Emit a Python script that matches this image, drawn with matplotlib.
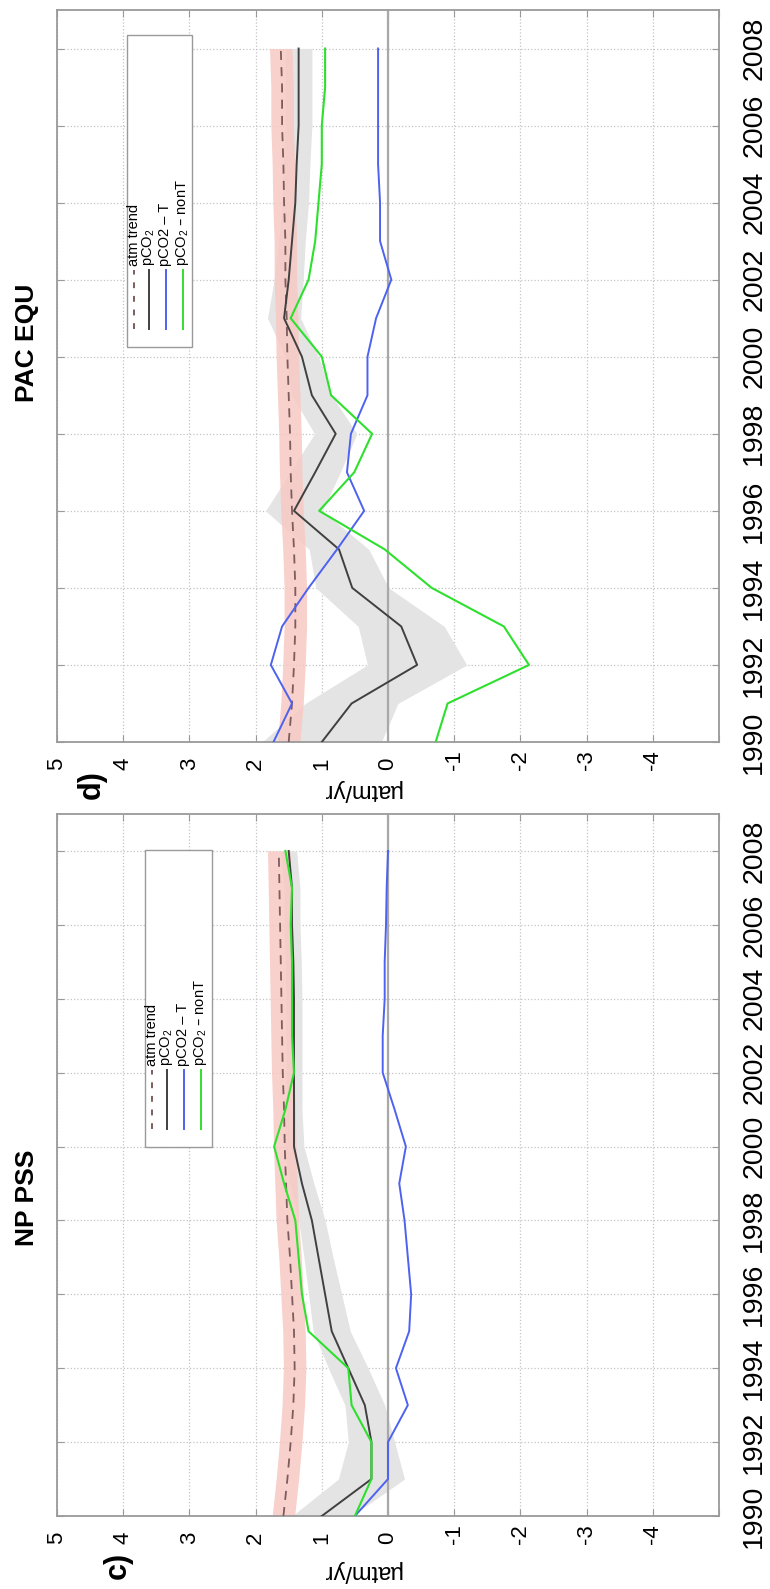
import matplotlib
matplotlib.use("Agg")
import matplotlib.pyplot as plt
from matplotlib.lines import Line2D
from matplotlib.patches import Rectangle
import numpy as np

plt.rcParams['font.family'] = ['Liberation Sans', 'DejaVu Sans']
plt.rcParams['mathtext.default'] = 'regular'

W_PX, H_PX = 770, 1589

years = np.arange(1990, 2009)
year_ticks = [1990, 1992, 1994, 1996, 1998, 2000, 2002, 2004, 2006, 2008]
value_ticks = [5, 4, 3, 2, 1, 0, -1, -2, -3, -4, -5]
value_labels = ['5', '4', '3', '2', '1', '0', '-1', '-2', '-3', '-4', '']

# NP PSS
npAtm = [1.58, 1.52, 1.47, 1.43, 1.41, 1.42, 1.45, 1.48, 1.52, 1.54,
         1.56, 1.57, 1.59, 1.60, 1.61, 1.62, 1.63, 1.64, 1.65]
npPco2 = [1.0, 0.25, 0.25, 0.35, 0.6, 0.85, 0.95, 1.05, 1.15, 1.3,
          1.42, 1.42, 1.42, 1.42, 1.42, 1.43, 1.45, 1.45, 1.5]
npErr = [0.45, 0.5, 0.35, 0.3, 0.3, 0.28, 0.25, 0.22, 0.2, 0.18,
         0.15, 0.12, 0.12, 0.12, 0.12, 0.12, 0.12, 0.12, 0.12]
npT = [0.5, 0.0, 0.0, -0.3, -0.12, -0.32, -0.35, -0.3, -0.25, -0.17,
       -0.27, -0.1, 0.08, 0.08, 0.05, 0.05, 0.03, 0.02, 0.0]
npNonT = [0.5, 0.25, 0.25, 0.55, 0.6, 1.2, 1.3, 1.35, 1.4, 1.57,
          1.72, 1.55, 1.42, 1.45, 1.45, 1.45, 1.47, 1.45, 1.55]

# PAC EQU
eqAtm = [1.5, 1.45, 1.42, 1.40, 1.40, 1.42, 1.45, 1.47, 1.48, 1.5,
         1.52, 1.53, 1.55, 1.55, 1.57, 1.58, 1.6, 1.6, 1.62]
eqPco2 = [1.0, 0.55, -0.44, -0.2, 0.54, 0.74, 1.42, 1.1, 0.79, 1.15,
          1.3, 1.57, 1.5, 1.45, 1.4, 1.38, 1.35, 1.35, 1.35]
eqErr = [0.9, 0.7, 0.75, 0.65, 0.55, 0.45, 0.43, 0.38, 0.32, 0.3,
         0.25, 0.25, 0.22, 0.2, 0.2, 0.2, 0.2, 0.2, 0.2]
eqT = [1.73, 1.45, 1.77, 1.6, 1.2, 0.77, 0.36, 0.62, 0.56, 0.31,
       0.31, 0.18, -0.05, 0.12, 0.12, 0.15, 0.15, 0.15, 0.15]
eqNonT = [-0.72, -0.9, -2.13, -1.75, -0.66, 0.05, 1.04, 0.51, 0.24, 0.86,
          1.0, 1.47, 1.2, 1.1, 1.05, 1.0, 1.0, 0.95, 0.95]

atmHalfWidth = 0.17

keyLabels = ['atm trend', 'pCO$_2$', 'pCO2 \u2013 T', 'pCO$_2$ \u2013 nonT']

cAtm = '#7d5c5c'
cBand = '#f7c9c3'
cErr = '#e4e4e4'
cPco2 = '#404040'
cT = '#4d62f0'
cNonT = '#2ee02e'
cFrame = '#9a9a9a'


def fig_xy(xp, yp):
    return xp / W_PX, 1 - yp / H_PX


def DrawKey(fig, left, top, right, bottom):
    x0, y0 = fig_xy(left, bottom)
    x1, y1 = fig_xy(right, top)
    fig.add_artist(Rectangle((x0, y0), x1 - x0, y1 - y0, transform=fig.transFigure,
                             facecolor='white', edgecolor=cFrame, lw=1.0, zorder=5))
    styles = [dict(color=cAtm, ls=(0, (3, 4))), dict(color=cPco2, ls='-'),
              dict(color=cT, ls='-'), dict(color=cNonT, ls='-')]
    offsets = [6.5, 21.5, 38.5, 55.5]
    for off, label, st in zip(offsets, keyLabels, styles):
        xa, ya = fig_xy(left + off, bottom - 18)
        xb, yb = fig_xy(left + off, bottom - 77)
        fig.add_artist(Line2D([xa, xb], [ya, yb], transform=fig.transFigure,
                              lw=1.4, zorder=6, **st))
        xt, yt = fig_xy(left + off, bottom - 81)
        fig.text(xt, yt, label, rotation=90, ha='center', va='bottom',
                 fontsize=10.5, zorder=7)


def DrawPanel(ax, atm, pco2, err, pT, pNonT, title, titleY, tag, tagXY, labelY):
    atm = np.array(atm)
    pco2 = np.array(pco2)
    err = np.array(err)

    ax.fill_betweenx(years, pco2 - err, pco2 + err, color=cErr, lw=0, zorder=1)
    ax.fill_betweenx(years, atm - atmHalfWidth, atm + atmHalfWidth,
                     color=cBand, alpha=0.85, lw=0, zorder=1.2)
    ax.axvline(0, color='#a8a8a8', lw=1.6, zorder=1.5)

    ax.plot(atm, years, color=cAtm, lw=1.3, dashes=(5, 4), zorder=3)
    ax.plot(pco2, years, color=cPco2, lw=1.4, zorder=3)
    ax.plot(pT, years, color=cT, lw=1.4, zorder=3)
    ax.plot(pNonT, years, color=cNonT, lw=1.5, zorder=3)

    ax.set_xlim(5, -5)
    ax.set_ylim(1990, 2009)

    ax.set_xticks(value_ticks)
    ax.set_xticklabels(value_labels)
    ax.set_yticks(year_ticks)
    ax.set_yticklabels([str(y) for y in year_ticks])

    ax.tick_params(axis='x', direction='in', top=True, bottom=True, length=5,
                   color=cFrame, labelsize=16, pad=20)
    ax.tick_params(axis='y', direction='in', left=True, right=True, length=5,
                   color=cFrame, labelleft=False, labelright=True,
                   labelsize=20.5, pad=16)
    for t in ax.get_xticklabels():
        t.set_rotation(90)
        t.set_va('bottom')
        t.set_ha('center')
    for t in ax.get_yticklabels():
        t.set_rotation(90)
        t.set_va('center')
        t.set_ha('left')

    ax.grid(True, linestyle=':', color='#c4c4c4', lw=0.9)
    ax.set_axisbelow(True)
    for sp in ax.spines.values():
        sp.set_color(cFrame)
        sp.set_linewidth(1.3)

    ax.set_xlabel('\u00b5atm/yr', rotation=180, fontsize=17, va='center', ha='center')
    ax.xaxis.set_label_coords(0.46, labelY)

    ax.text(-0.045, titleY, title, transform=ax.transAxes, rotation=90,
            fontsize=19, fontweight='bold', ha='center', va='center')
    ax.text(tagXY[0], tagXY[1], tag, transform=ax.transAxes, rotation=90,
            fontsize=22, fontweight='bold', ha='center', va='center')


fig = plt.figure(figsize=(W_PX / 100, H_PX / 100), dpi=100)

axD = fig.add_axes([57 / W_PX, 1 - 742 / H_PX, 662 / W_PX, 732 / H_PX])
axC = fig.add_axes([57 / W_PX, 1 - 1516 / H_PX, 662 / W_PX, 702 / H_PX])

DrawPanel(axD, eqAtm, eqPco2, eqErr, eqT, eqNonT, 'PAC EQU', 0.546,
          'd)', (0.053, -0.058), -0.066)
DrawPanel(axC, npAtm, npPco2, npErr, npT, npNonT, 'NP PSS', 0.453,
          'c)', (0.092, -0.070), -0.078)

DrawKey(fig, 127, 35, 192, 347)
DrawKey(fig, 145, 850, 212, 1147)

fig.savefig('out.png', dpi=100)
